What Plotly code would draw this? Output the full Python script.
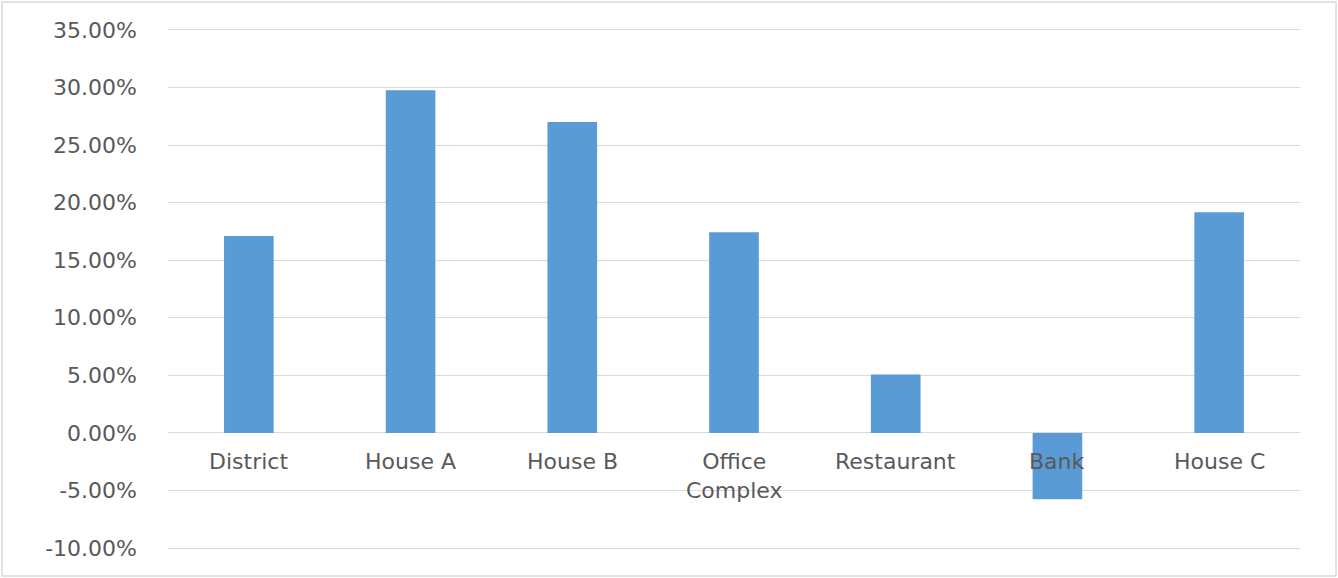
import plotly.graph_objects as go

categories = ["District", "House A", "House B", "Office Complex", "Restaurant", "Bank", "House C"]
category_labels = ["District", "House A", "House B", "Office<br>Complex", "Restaurant", "Bank", "House C"]
values = [0.1710, 0.2976, 0.2700, 0.1743, 0.0508, -0.0577, 0.1917]
y_ticks = [-0.10, -0.05, 0.0, 0.05, 0.10, 0.15, 0.20, 0.25, 0.30, 0.35]
y_tick_labels = ["-10.00%", "-5.00%", "0.00%", "5.00%", "10.00%", "15.00%",
                 "20.00%", "25.00%", "30.00%", "35.00%"]

W, H = 1338, 578
ml, mr, mt, mb = 168, 38, 27, 27
font_family = "DejaVu Sans"
text_color = "#595959"
grid_color = "#d9d9d9"

fig = go.Figure()
fig.add_trace(go.Bar(
    x=categories, y=values,
    marker=dict(color="#5B9BD5", line=dict(width=0)),
    width=0.307,
    hoverinfo="x+y",
))

for cat, lab in zip(categories, category_labels):
    fig.add_annotation(
        x=cat, y=0, xref="x", yref="y", text=lab, showarrow=False,
        yanchor="top", xanchor="center", yshift=-14,
        font=dict(family=font_family, size=22, color=text_color),
    )

pw = W - ml - mr
ph = H - mt - mb
fig.add_shape(
    type="rect", xref="paper", yref="paper",
    x0=(2 - ml) / pw, x1=(W - 2 - ml) / pw,
    y0=-(mb - 2) / ph, y1=1 + (mt - 2) / ph,
    line=dict(color="#d9d9d9", width=1.5), fillcolor="rgba(0,0,0,0)", layer="below",
)

fig.update_layout(
    width=W, height=H,
    margin=dict(l=ml, r=mr, t=mt, b=mb),
    paper_bgcolor="white", plot_bgcolor="white",
    showlegend=False,
    xaxis=dict(showticklabels=False, showgrid=False, zeroline=False, showline=False,
               ticks="", range=[-0.5, 6.5]),
    yaxis=dict(range=[-0.1026, 0.3526], tickvals=y_ticks, ticktext=y_tick_labels,
               showgrid=True, gridcolor=grid_color, gridwidth=1,
               zeroline=True, zerolinecolor=grid_color, zerolinewidth=1,
               showline=False, ticks="", ticklabelstandoff=30,
               tickfont=dict(family=font_family, size=22, color=text_color)),
)

fig.write_html("out.html", config={"displayModeBar": False},
               post_script="document.body.style.margin='0';document.body.style.padding='0';")
